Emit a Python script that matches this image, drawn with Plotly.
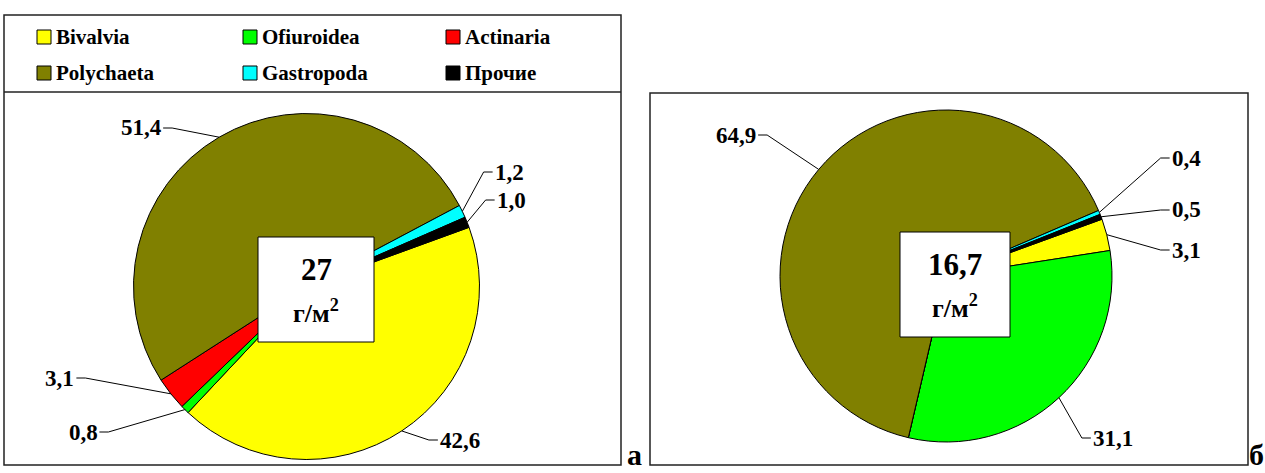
import math
import plotly.graph_objects as go

W, H = 1265, 473

# Biomass shares (%) by group, two stations
groups = ["Bivalvia", "Ofiuroidea", "Actinaria", "Polychaeta", "Gastropoda", "Прочие"]
share_a = [42.6, 0.8, 3.1, 51.4, 1.2, 1.0]
share_b = [3.1, 31.1, 0.0, 64.9, 0.4, 0.5]
total_a = "27"
total_b = "16,7"
colors = ["#FFFF00", "#00FF00", "#FF0000", "#808000", "#00FFFF", "#000000"]

ROTATION = 70
FONT = "Liberation Serif, Times New Roman, serif"


def px(x):
    return x / W


def py(y):
    return 1 - y / H


# pie geometry in pixels: centre and radius
pies = [
    dict(vals=share_a, cx=306.5, cy=286.5, r=173),
    dict(vals=share_b, cx=946.0, cy=276.0, r=166),
]

fig = go.Figure()
for p in pies:
    fig.add_trace(go.Pie(
        labels=groups, values=p["vals"], sort=False, direction="clockwise",
        rotation=ROTATION, textinfo="none", hoverinfo="label+value",
        marker=dict(colors=colors, line=dict(color="#000000", width=1)),
        domain=dict(x=[px(p["cx"] - p["r"]), px(p["cx"] + p["r"])],
                    y=[py(p["cy"] + p["r"]), py(p["cy"] - p["r"])]),
        showlegend=False,
    ))


def edge_point(p, idx):
    """Pixel position on the rim at the middle of slice idx."""
    vals = p["vals"]
    tot = sum(vals)
    start = ROTATION + 360 * sum(vals[:idx]) / tot
    mid = math.radians(start + 180 * vals[idx] / tot)
    return p["cx"] + p["r"] * math.sin(mid), p["cy"] - p["r"] * math.cos(mid)


shapes = []
annotations = []

LABEL_SIZE = 23
# value labels: (pie, slice index, text x, text y, side of the leader)
label_spots = [
    (0, 3, 141, 128, "left"),
    (0, 4, 509, 172, "right"),
    (0, 5, 511, 200, "right"),
    (0, 0, 460, 440, "right"),
    (0, 1, 83, 432, "left"),
    (0, 2, 60, 378, "left"),
    (1, 3, 736, 135, "left"),
    (1, 4, 1186, 158, "right"),
    (1, 5, 1186, 210, "right"),
    (1, 0, 1186, 250, "right"),
    (1, 1, 1113, 438, "right"),
]

for pi, si, tx, ty, side in label_spots:
    p = pies[pi]
    v = p["vals"][si]
    txt = f"{v:.1f}".replace(".", ",")
    annotations.append(dict(
        x=px(tx), y=py(ty), xref="paper", yref="paper", text=f"<b>{txt}</b>",
        showarrow=False, font=dict(family=FONT, size=LABEL_SIZE, color="#000"),
        xanchor="center", yanchor="middle",
    ))
    half = LABEL_SIZE * (0.5 * (len(txt) - 1) + 0.25) / 2 + 2
    ex, ey = edge_point(p, si)
    if side == "left":
        x0 = tx + half
        x1 = x0 + 9
    else:
        x0 = tx - half
        x1 = x0 - 9
    shapes.append(dict(
        type="path", xref="paper", yref="paper",
        path=f"M{px(x0)},{py(ty)} L{px(x1)},{py(ty)} L{px(ex)},{py(ey)}",
        line=dict(color="#000", width=1),
    ))

# white boxes with total biomass
for (bx0, by0, bx1, by1, tot) in [(258, 237, 374, 342, total_a),
                                  (900, 232, 1010, 337, total_b)]:
    shapes.append(dict(type="rect", xref="paper", yref="paper",
                       x0=px(bx0), x1=px(bx1), y0=py(by1), y1=py(by0),
                       fillcolor="#FFFFFF", line=dict(color="#000", width=1)))
    cxm = (bx0 + bx1) / 2
    annotations.append(dict(x=px(cxm), y=py(by0 + 32), xref="paper", yref="paper",
                            text=f"<b>{tot}</b>", showarrow=False,
                            xanchor="center", yanchor="middle",
                            font=dict(family=FONT, size=31, color="#000")))
    annotations.append(dict(x=px(cxm), y=py(by0 + 74), xref="paper", yref="paper",
                            text="<b>г/м<sup>2</sup></b>", showarrow=False,
                            xanchor="center", yanchor="middle",
                            font=dict(family=FONT, size=26, color="#000")))

# panel frames
shapes += [
    dict(type="rect", xref="paper", yref="paper", x0=px(4), x1=px(621),
         y0=py(465), y1=py(15), line=dict(color="#222", width=1.5)),
    dict(type="line", xref="paper", yref="paper", x0=px(4), x1=px(621),
         y0=py(92), y1=py(92), line=dict(color="#222", width=1.5)),
    dict(type="rect", xref="paper", yref="paper", x0=px(650), x1=px(1248),
         y0=py(465), y1=py(93), line=dict(color="#222", width=1.5)),
]

# legend drawn as swatches and text in two rows of three
leg_cols = [37, 243, 446]
leg_rows = [37, 73]
for i, (g, c) in enumerate(zip(groups, colors)):
    col = leg_cols[i % 3]
    row = leg_rows[i // 3]
    shapes.append(dict(type="rect", xref="paper", yref="paper",
                       x0=px(col), x1=px(col + 14), y0=py(row + 7), y1=py(row - 7),
                       fillcolor=c, line=dict(color="#000", width=1)))
    annotations.append(dict(x=px(col + 17), y=py(row), xref="paper", yref="paper",
                            text=f"<b>{g}</b>", showarrow=False, xanchor="left",
                            yanchor="middle",
                            font=dict(family=FONT, size=21, color="#000")))

# panel letters
for lx, letter in [(634, "а"), (1256, "б")]:
    annotations.append(dict(x=px(lx), y=py(454), xref="paper", yref="paper",
                            text=f"<b>{letter}</b>", showarrow=False,
                            xanchor="center", yanchor="middle",
                            font=dict(family=FONT, size=30, color="#000")))

fig.update_layout(
    width=W, height=H, margin=dict(l=0, r=0, t=0, b=0),
    paper_bgcolor="#FFFFFF", plot_bgcolor="#FFFFFF",
    shapes=shapes, annotations=annotations, showlegend=False,
)

fig.write_html("out.html")
